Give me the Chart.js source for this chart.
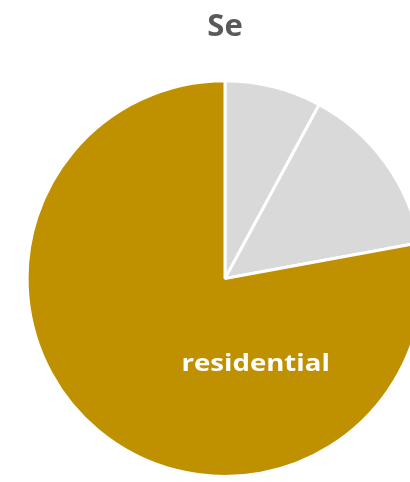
<!DOCTYPE html>
<html>
<head>
<meta charset="utf-8">
<script src="https://cdn.jsdelivr.net/npm/chart.js@4"></script>
<style>
  html, body { margin: 0; padding: 0; background: #fff; overflow: hidden; }
  #wrap { width: 450px; height: 482px; }
</style>
</head>
<body>
<div id="wrap"><canvas id="pieChart" width="450" height="482"></canvas></div>
<script>
// Sector shares (%), clockwise from 12 o'clock
const categories = ['other', 'commercial', 'residential'];
const shares = [7.9, 14.2, 77.9];
const sliceColors = ['#D9D9D9', '#D9D9D9', '#BF9000'];
const shownLabels = ['residential'];

// Draw the in-slice label for residential (slightly widened, like the original)
const sliceLabel = {
    id: 'sliceLabel',
    afterDatasetsDraw(chart) {
        const ctx = chart.ctx;
        const meta = chart.getDatasetMeta(0);
        meta.data.forEach((arc, i) => {
            if (!shownLabels.includes(categories[i])) return;
            const r = arc.outerRadius;
            ctx.save();
            ctx.translate(arc.x + r * 0.155, arc.y + r * 0.43);
            ctx.scale(1.15, 1);
            ctx.fillStyle = '#FFFFFF';
            ctx.font = 'bold 24px "Open Sans", sans-serif';
            ctx.textAlign = 'center';
            ctx.textBaseline = 'middle';
            ctx.fillText(categories[i], 0, 0);
            ctx.restore();
        });
    }
};

const pieCtx = document.getElementById('pieChart').getContext('2d');
new Chart(pieCtx, {
    type: 'pie',
    data: {
        labels: categories,
        datasets: [{
            data: shares,
            backgroundColor: sliceColors,
            borderColor: '#FFFFFF',
            borderWidth: 3
        }]
    },
    options: {
        responsive: false,
        animation: false,
        layout: { padding: { bottom: 4 } },
        plugins: {
            legend: { display: false },
            tooltip: { enabled: false },
            title: {
                display: true,
                text: 'Se',
                color: '#595959',
                font: { family: '"Open Sans", sans-serif', size: 31, weight: 'bold' },
                padding: { top: 9, bottom: 33 }
            }
        }
    },
    plugins: [sliceLabel]
});
</script>
</body>
</html>
